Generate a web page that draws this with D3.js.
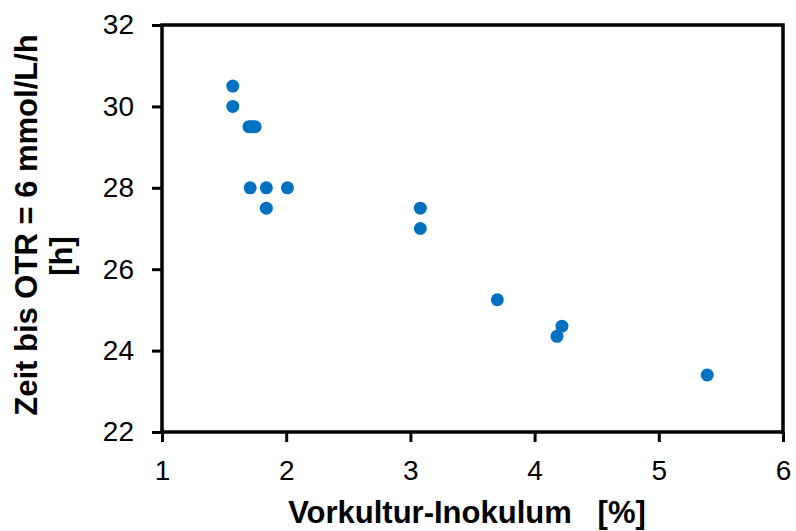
<!DOCTYPE html>
<html><head><meta charset="utf-8">
<script src="https://cdn.jsdelivr.net/npm/d3@7"></script>
<style>body{margin:0;background:#fff}svg{display:block}text{font-family:"Liberation Sans",Arial,sans-serif;fill:#000}</style>
</head><body><svg id="c" width="796" height="531"></svg>
<script>
const inokulum = [1.57,1.57,1.70,1.725,1.75,1.71,1.84,2.01,1.84,3.08,3.08,3.70,4.22,4.18,5.39];
const zeit     = [30.5,30.0,29.5,29.5,29.5,28.0,28.0,28.0,27.5,27.5,27.0,25.25,24.6,24.35,23.4];
const xTicks = [1,2,3,4,5,6];
const yTicks = [22,24,26,28,30,32];
const xTitle = "Vorkultur-Inokulum   [%]";
const yTitle1 = "Zeit bis OTR = 6 mmol/L/h";
const yTitle2 = "[h]";

const svg = d3.select("#c");
const L=162,R=783,T=25,B=432;
const x = d3.scaleLinear().domain([1,6]).range([L,R]);
const y = d3.scaleLinear().domain([22,32]).range([B,T]);

svg.append("rect").attr("x",L).attr("y",T).attr("width",R-L).attr("height",B-T)
  .attr("fill","none").attr("stroke","#000").attr("stroke-width",3.5);

const xa = svg.append("g").attr("transform",`translate(0,${B})`)
  .call(d3.axisBottom(x).tickValues(xTicks).tickFormat(d3.format("d")).tickSize(10).tickPadding(18));
const ya = svg.append("g").attr("transform",`translate(${L},0)`)
  .call(d3.axisLeft(y).tickValues(yTicks).tickFormat(d3.format("d")).tickSize(10).tickPadding(18));
[xa,ya].forEach(a=>{
  a.select(".domain").remove();
  a.selectAll("line").attr("stroke","#000").attr("stroke-width",3);
  a.selectAll("text").style("font-family",'"Liberation Sans",Arial,sans-serif').style("font-size","28px").attr("fill","#000");
});

svg.append("g").selectAll("circle").data(inokulum).join("circle")
  .attr("cx",(d,i)=>x(d)).attr("cy",(d,i)=>y(zeit[i])).attr("r",6.5).attr("fill","#0070C0");

svg.append("text").attr("x",467).attr("y",523).attr("text-anchor","middle")
  .style("font-size","31px").style("font-weight","bold").style("white-space","pre").text(xTitle);
svg.append("text").attr("transform","translate(37,225) rotate(-90)").attr("text-anchor","middle")
  .style("font-size","31px").style("font-weight","bold").text(yTitle1);
svg.append("text").attr("transform","translate(72,256) rotate(-90)").attr("text-anchor","middle")
  .style("font-size","31px").style("font-weight","bold").text(yTitle2);
</script></body></html>
